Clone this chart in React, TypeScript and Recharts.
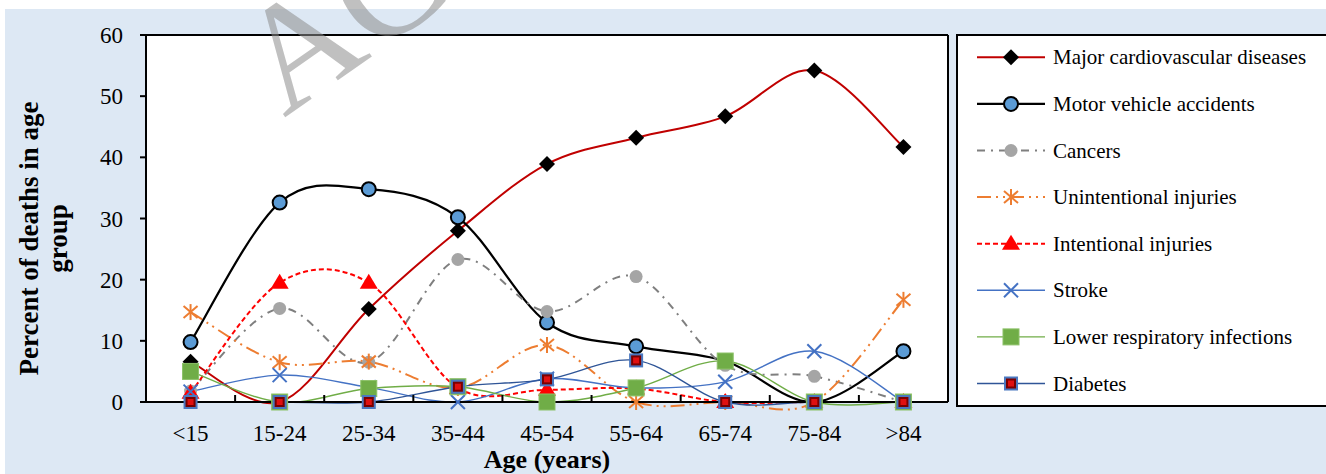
import type { ReactElement } from 'react'
import { LineChart, Line, XAxis, YAxis, CartesianGrid, Legend } from 'recharts'

const SERIF = '"Liberation Serif", "Times New Roman", serif'

// Age groups on the x axis
const categories = ['<15', '15-24', '25-34', '35-44', '45-54', '55-64', '65-74', '75-84', '>84']
const yTicks = [0, 10, 20, 30, 40, 50, 60]

// Percent of deaths in each age group
const cardiovascular = [6.6, 0, 15.2, 28.0, 38.9, 43.2, 46.7, 54.2, 41.7]
const motorVehicle = [9.8, 32.6, 34.8, 30.2, 13.0, 9.1, 6.7, 0, 8.3]
const cancers = [1.8, 15.3, 6.5, 23.3, 14.8, 20.5, 6.0, 4.2, 0]
const unintentional = [14.7, 6.5, 6.6, 2.3, 9.3, 0, 0, 0, 16.7]
const intentional = [1.5, 19.5, 19.5, 2.3, 2.0, 2.2, 0, 0, 0]
const stroke = [1.7, 4.4, 2.4, 0, 3.8, 2.3, 3.3, 8.3, 0]
const lowerRespiratory = [5.0, 0, 2.2, 2.5, 0, 2.3, 6.7, 0, 0]
const diabetes = [0, 0, 0, 2.5, 3.7, 6.8, 0, 0, 0]

type Marker = 'diamond' | 'bigCircle' | 'circle' | 'star' | 'triangle' | 'cross' | 'square' | 'smallSquare'

interface Series {
  key: string
  name: string
  values: number[]
  color: string
  width: number
  dash?: string
  marker: Marker
}

const series: Series[] = [
  { key: 'cardio', name: 'Major cardiovascular diseases', values: cardiovascular, color: '#C00000', width: 2, marker: 'diamond' },
  { key: 'motor', name: 'Motor vehicle accidents', values: motorVehicle, color: '#000000', width: 2.25, marker: 'bigCircle' },
  { key: 'cancers', name: 'Cancers', values: cancers, color: '#7F7F7F', width: 2, dash: '8 6 2 6', marker: 'circle' },
  { key: 'unintentional', name: 'Unintentional injuries', values: unintentional, color: '#ED7D31', width: 2, dash: '14 5 2 5 2 5', marker: 'star' },
  { key: 'intentional', name: 'Intentional injuries', values: intentional, color: '#FF0000', width: 2, dash: '5 3', marker: 'triangle' },
  { key: 'stroke', name: 'Stroke', values: stroke, color: '#4472C4', width: 1.4, marker: 'cross' },
  { key: 'lowerResp', name: 'Lower respiratory infections', values: lowerRespiratory, color: '#70AD47', width: 1.4, marker: 'square' },
  { key: 'diabetes', name: 'Diabetes', values: diabetes, color: '#2F5597', width: 1.4, marker: 'smallSquare' },
]

const data = categories.map((age, i) => {
  const row: Record<string, number | string> = { i, age }
  series.forEach((s) => (row[s.key] = s.values[i]))
  return row
})

// category centres get labels, the half steps get the little tick marks between groups
const xTicks = categories.flatMap((_, i) => (i < categories.length - 1 ? [i, i + 0.5] : [i]))
const xDomain = [-0.5, categories.length - 0.5]

// Excel style smoothed line (Catmull-Rom through every point)
function excelSmooth(context: any) {
  let pts: number[][] = []
  return {
    areaStart() {},
    areaEnd() {},
    lineStart() {
      pts = []
    },
    point(x: number, y: number) {
      pts.push([+x, +y])
    },
    lineEnd() {
      if (!pts.length) return
      context.moveTo(pts[0][0], pts[0][1])
      for (let k = 0; k < pts.length - 1; k++) {
        const p0 = pts[k - 1] || pts[k]
        const p1 = pts[k]
        const p2 = pts[k + 1]
        const p3 = pts[k + 2] || p2
        context.bezierCurveTo(
          p1[0] + (p2[0] - p0[0]) / 6,
          p1[1] + (p2[1] - p0[1]) / 6,
          p2[0] - (p3[0] - p1[0]) / 6,
          p2[1] - (p3[1] - p1[1]) / 6,
          p2[0],
          p2[1],
        )
      }
    },
  }
}

function MarkerShape({ kind, cx, cy }: { kind: Marker; cx: number; cy: number }): ReactElement {
  switch (kind) {
    case 'diamond':
      return <polygon points={`${cx},${cy - 8} ${cx + 8},${cy} ${cx},${cy + 8} ${cx - 8},${cy}`} fill="#000" />
    case 'bigCircle':
      return <circle cx={cx} cy={cy} r={7} fill="#5B9BD5" stroke="#000" strokeWidth={2} />
    case 'circle':
      return <circle cx={cx} cy={cy} r={6.5} fill="#A5A5A5" />
    case 'star':
      return (
        <g stroke="#ED7D31" strokeWidth={2}>
          <line x1={cx} y1={cy - 8} x2={cx} y2={cy + 8} />
          <line x1={cx - 7} y1={cy - 6} x2={cx + 7} y2={cy + 6} />
          <line x1={cx - 7} y1={cy + 6} x2={cx + 7} y2={cy - 6} />
        </g>
      )
    case 'triangle':
      return <polygon points={`${cx},${cy - 9} ${cx + 9},${cy + 6} ${cx - 9},${cy + 6}`} fill="#FF0000" />
    case 'cross':
      return (
        <g stroke="#4472C4" strokeWidth={2}>
          <line x1={cx - 7} y1={cy - 7} x2={cx + 7} y2={cy + 7} />
          <line x1={cx - 7} y1={cy + 7} x2={cx + 7} y2={cy - 7} />
        </g>
      )
    case 'square':
      return <rect x={cx - 8} y={cy - 8} width={16} height={16} fill="#70AD47" stroke="#8CC168" strokeWidth={1} />
    case 'smallSquare':
      return (
        <g>
          <rect x={cx - 6} y={cy - 6} width={12} height={12} fill="#7A0000" stroke="#4A78C0" strokeWidth={2} />
          <rect x={cx - 3} y={cy - 3} width={6} height={6} fill="#E01010" />
        </g>
      )
  }
}

function XTick({ x, y, payload }: any) {
  const v = payload.value as number
  if (Number.isInteger(v)) {
    return (
      <text x={x} y={y + 39} textAnchor="middle" fill="#000" fontFamily={SERIF} fontSize={23}>
        {categories[v]}
      </text>
    )
  }
  return <line x1={x} x2={x} y1={y} y2={y - 7} stroke="#000" strokeWidth={2} />
}

function LegendBox() {
  return (
    <svg width={372} height={373} style={{ display: 'block' }}>
      <rect x={1} y={1} width={380} height={371} fill="#fff" stroke="#000" strokeWidth={2} />
      {series.map((s, k) => {
        const cy = 23.3 + k * 46.6
        return (
          <g key={s.key}>
            <line x1={21} x2={89} y1={cy} y2={cy} stroke={s.color} strokeWidth={s.width} strokeDasharray={s.dash} />
            <MarkerShape kind={s.marker} cx={55} cy={cy} />
            <text x={97} y={cy + 7} fontFamily={SERIF} fontSize={21} fill="#000">
              {s.name}
            </text>
          </g>
        )
      })}
    </svg>
  )
}

function YTitle({ viewBox }: any) {
  const cx = viewBox.x + 38
  const cy = viewBox.y + viewBox.height / 2 + 20
  return (
    <text
      transform={`rotate(-90 ${cx} ${cy})`}
      x={cx}
      y={cy}
      textAnchor="middle"
      fontFamily={SERIF}
      fontWeight="bold"
      fontSize={27}
      fill="#000"
    >
      <tspan x={cx} dy={0}>Percent of deaths in age</tspan>
      <tspan x={cx} dy={29}>group</tspan>
    </text>
  )
}

function XTitle({ viewBox }: any) {
  return (
    <text
      x={viewBox.x + viewBox.width / 2}
      y={468}
      textAnchor="middle"
      fontFamily={SERIF}
      fontWeight="bold"
      fontSize={26}
      fill="#000"
    >
      Age (years)
    </text>
  )
}

export default function App() {
  return (
    <div style={{ position: 'absolute', left: 0, top: 0, width: 1326, height: 474, background: '#fff', overflow: 'hidden' }}>
      <div style={{ position: 'absolute', left: 5, top: 9, right: 0, bottom: 0, background: '#DDE8F4' }} />
      <div style={{ position: 'absolute', left: 0, top: 0 }}>
        <LineChart width={1326} height={474} data={data} margin={{ top: 35, right: 378, bottom: 0, left: 0 }}>
          {/* white plot area framed by a black border */}
          <CartesianGrid
            fill="#fff"
            stroke="#000"
            strokeWidth={2}
            horizontalValues={[yTicks[0], yTicks[yTicks.length - 1]]}
            verticalValues={xDomain}
          />
          <XAxis
            dataKey="i"
            type="number"
            domain={xDomain}
            ticks={xTicks}
            interval={0}
            height={72}
            tickSize={0}
            tickMargin={0}
            tickLine={false}
            axisLine={{ stroke: '#000', strokeWidth: 2 }}
            tick={<XTick />}
            label={<XTitle />}
          />
          <YAxis
            domain={[0, 60]}
            ticks={yTicks}
            interval={0}
            width={146}
            tickSize={6}
            tickMargin={17}
            tickLine={{ stroke: '#000', strokeWidth: 2 }}
            axisLine={{ stroke: '#000', strokeWidth: 2 }}
            tick={{ fill: '#000', fontSize: 23, fontFamily: SERIF }}
            label={<YTitle />}
          />
          {series.map((s) => (
            <Line
              key={s.key}
              dataKey={s.key}
              name={s.name}
              type={excelSmooth as any}
              stroke={s.color}
              strokeWidth={s.width}
              strokeDasharray={s.dash}
              isAnimationActive={false}
              activeDot={false}
              dot={(p: any) => <MarkerShape key={`${s.key}-${p.index}`} kind={s.marker} cx={p.cx} cy={p.cy} />}
            />
          ))}
          <Legend
            layout="vertical"
            align="center"
            verticalAlign="middle"
            wrapperStyle={{ left: 956, top: 34, width: 372, height: 373 }}
            content={() => <LegendBox />}
          />
        </LineChart>
      </div>
      <svg width={1326} height={474} style={{ position: 'absolute', left: 0, top: 0, pointerEvents: 'none' }}>
        <text
          x={284}
          y={118}
          transform="rotate(-35 284 118)"
          fontFamily={SERIF}
          fontSize={150}
          fill="rgba(140,140,140,0.55)"
        >
          ACCEPTED MANUSCRIPT
        </text>
      </svg>
    </div>
  )
}
